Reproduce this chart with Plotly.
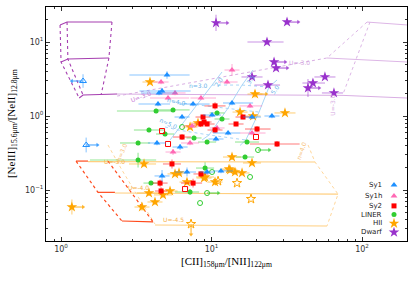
import numpy as np
import plotly.graph_objects as go

# ---------------- observed sources ----------------
# each class: x, y, x-error low/high (dex), y-error (dex)
sy1_x = [5.06, 4.69, 4.48, 4.41, 7.54, 13.68, 6.37, 10.08, 18.58, 25.2, 12.88, 4.34, 6.18, 10.71, 4.69, 6.87, 9.34, 11.56]
sy1_y = [3.58, 2.18, 2.05, 1.45, 1.45, 1.50, 0.969, 1.03, 0.969, 1.0, 0.589, 0.432, 0.381, 0.489, 0.155, 0.175, 0.175, 0.181]
sy1_exl = [0.25, 0.15, 0.12, 0.13, 0.09, 0.06, 0.05, 0.06, 0.06, 0.05, 0.10, 0.06, 0.05, 0.05, 0.05, 0.08, 0.05, 0.05]
sy1_exh = [0.15, 0.19, 0.12, 0.08, 0.11, 0.14, 0.05, 0.06, 0.06, 0.05, 0.08, 0.06, 0.05, 0.05, 0.05, 0.06, 0.05, 0.08]
sy1_ey = [0.05, 0.04, 0.03, 0.03, 0.03, 0.03, 0.03, 0.03, 0.03, 0.03, 0.03, 0.03, 0.04, 0.03, 0.08, 0.06, 0.03, 0.03]
sy1_lim_x = [1.40, 1.47]
sy1_lim_y = [2.97, 0.406]
sy1_lim_ey = [0.09, 0.10]
sy1_lim_dir = ["left", "right"]

sy1h_x = [4.62, 5.72, 13.68, 12.68, 5.14, 8.51, 18.03, 7.42, 10.88, 7.20, 18.58, 5.55]
sy1h_y = [2.88, 2.05, 4.18, 2.88, 1.75, 1.75, 1.37, 0.733, 0.689, 0.432, 0.589, 0.326]
sy1h_exl = [0.05, 0.10, 0.05, 0.06, 0.12, 0.07, 0.07, 0.06, 0.05, 0.06, 0.08, 0.05]
sy1h_exh = [0.05, 0.07, 0.05, 0.07, 0.14, 0.10, 0.08, 0.06, 0.05, 0.06, 0.09, 0.05]
sy1h_ey = [0.03, 0.03, 0.08, 0.03, 0.03, 0.03, 0.03, 0.03, 0.03, 0.03, 0.03, 0.04]

sy2_x = [10.55, 16.19, 8.51, 9.34, 8.92, 10.55, 14.55, 20.06, 6.37, 8.78, 27.25, 5.46, 4.55, 4.62, 7.54, 8.51]
sy2_y = [1.37, 0.969, 0.780, 0.780, 0.83, 0.647, 0.780, 0.667, 0.520, 0.969, 0.419, 0.225, 0.124, 0.097, 0.124, 0.165]
sy2_exl = [0.07, 0.05, 0.05, 0.05, 0.05, 0.05, 0.05, 0.08, 0.06, 0.05, 0.18, 0.06, 0.05, 0.04, 0.08, 0.05]
sy2_exh = [0.07, 0.05, 0.05, 0.05, 0.05, 0.05, 0.05, 0.09, 0.06, 0.05, 0.15, 0.06, 0.05, 0.04, 0.06, 0.05]
sy2_ey = [0.05, 0.03, 0.03, 0.03, 0.03, 0.04, 0.03, 0.04, 0.04, 0.03, 0.04, 0.06, 0.05, 0.05, 0.06, 0.04]
sy2_open_x = [4.69, 19.75, 5.14, 6.67]
sy2_open_y = [0.627, 0.520, 0.419, 0.103]

liner_x = [4.28, 5.55, 3.84, 4.91, 11.74, 10.88, 3.25, 3.25, 9.34, 17.21, 7.65, 9.06, 16.70, 3.96, 7.20]
liner_y = [1.17, 1.21, 0.647, 0.571, 0.911, 1.10, 0.432, 0.254, 0.445, 0.445, 0.505, 0.198, 0.279, 0.124, 0.094]
liner_exl = [0.26, 0.10, 0.10, 0.06, 0.05, 0.05, 0.12, 0.32, 0.06, 0.08, 0.05, 0.06, 0.06, 0.05, 0.10]
liner_exh = [0.10, 0.11, 0.10, 0.06, 0.05, 0.05, 0.08, 0.12, 0.06, 0.08, 0.05, 0.06, 0.06, 0.05, 0.06]
liner_ey = [0.03, 0.03, 0.03, 0.03, 0.03, 0.03, 0.03, 0.10, 0.03, 0.03, 0.03, 0.08, 0.03, 0.03, 0.04]
liner_open_x = [6.37, 20.37, 10.08, 18.03, 9.34, 8.39]
liner_open_y = [0.710, 0.347, 0.175, 0.150, 0.091, 0.0667]
liner_open_lim = ["", "right", "", "", "right", ""]

hii_x = [3.90, 15.47, 18.87, 8.13, 7.20, 13.68, 18.58, 13.28, 14.32, 15.95, 9.06, 3.56, 6.08, 8.92, 13.07, 3.84, 4.76, 5.30, 3.45, 4.21, 5.72, 10.55, 6.87, 30.77, 1.18, 19.45]
hii_y = [2.88, 1.13, 1.0, 0.804, 0.71, 0.279, 0.232, 0.186, 0.175, 0.170, 0.150, 0.225, 0.170, 0.145, 0.192, 0.091, 0.086, 0.097, 0.0589, 0.0689, 0.165, 0.128, 0.128, 1.10, 0.0589, 1.98]
hii_exl = [0.05, 0.05, 0.05, 0.05, 0.05, 0.06, 0.06, 0.05, 0.05, 0.05, 0.06, 0.10, 0.06, 0.05, 0.05, 0.08, 0.06, 0.05, 0.05, 0.05, 0.05, 0.05, 0.05, 0.07, 0.0, 0.05]
hii_exh = [0.05, 0.05, 0.05, 0.05, 0.05, 0.06, 0.06, 0.05, 0.05, 0.05, 0.06, 0.08, 0.06, 0.05, 0.05, 0.08, 0.06, 0.05, 0.05, 0.05, 0.05, 0.05, 0.05, 0.07, 0.0, 0.05]
hii_ey = [0.03, 0.03, 0.03, 0.03, 0.03, 0.04, 0.03, 0.03, 0.03, 0.03, 0.03, 0.04, 0.04, 0.03, 0.03, 0.04, 0.04, 0.03, 0.05, 0.04, 0.03, 0.03, 0.03, 0.03, 0.10, 0.05]
hii_lim = ["", "", "", "", "", "", "", "", "", "", "", "", "", "", "", "", "", "", "", "", "", "", "", "", "right", "right"]
hii_open_x = [11.05, 14.77, 18.30, 7.31]
hii_open_y = [0.132, 0.124, 0.0756, 0.0347]
hii_open_lim = ["", "", "", "down"]

dw_x = [10.71, 31.75, 23.37, 26.03, 26.84, 18.58, 23.73, 56.7, 47.2, 43.75, 65.1]
dw_y = [18.1, 18.6, 10.0, 5.37, 4.45, 3.37, 2.62, 3.37, 2.79, 2.39, 2.05]
dw_exl = [0.0, 0.0, 0.13, 0.0, 0.0, 0.07, 0.09, 0.07, 0.07, 0.0, 0.08]
dw_exh = [0.0, 0.0, 0.11, 0.0, 0.0, 0.07, 0.08, 0.07, 0.08, 0.0, 0.06]
dw_ey = [0.11, 0.03, 0.03, 0.03, 0.03, 0.03, 0.03, 0.03, 0.03, 0.12, 0.03]
dw_lim = ["right", "right", "", "right", "right", "", "", "", "", "right", ""]

# ---------------- model grids ----------------
pl_rows_x = [[0.985, 1.096, 2.18], [1.0, 1.11, 2.08], [1.32, 1.40, 2.36]]
pl_rows_y = [[17.0, 18.6, 18.6], [5.37, 5.89, 6.08], [1.75, 1.92, 1.98]]
pl_cols_x = [[0.985, 1.0, 1.32], [1.096, 1.11, 1.40], [2.18, 2.08, 1.85]]
pl_cols_y = [[17.0, 5.37, 1.75], [18.6, 5.89, 1.92], [18.6, 6.08, 1.97]]
pl_long_x = [2.36, 74.8, 199]
pl_long_y = [1.98, 1.90, 1.75]
pl_diag_x = [2.36, 58.5]
pl_diag_y = [1.86, 6.08]
pr_rows_x = [[108, 199], [58.5, 199]]
pr_rows_y = [[18.6, 17.0], [6.08, 5.37]]
pr_cols_x = [[108, 58.5], [113, 74.8]]
pr_cols_y = [[18.6, 6.08], [18.6, 1.98]]

red_rows_x = [[1.258, 1.51], [1.76, 2.28], [2.54, 4.09]]
red_rows_y = [[0.246, 0.246], [0.093, 0.093], [0.0381, 0.0371]]
red_cols_x = [[1.258, 1.76, 2.54], [2.05, 2.92, 4.09]]
red_cols_y = [[0.246, 0.093, 0.0381], [0.246, 0.093, 0.0371]]
org_rows_x = [[1.51, 48.7], [2.28, 69.3], [4.21, 58.5]]
org_rows_y = [[0.242, 0.239], [0.091, 0.088], [0.0337, 0.0326]]
org_left_x = [2.05, 2.54, 3.35, 4.21]
org_left_y = [0.406, 0.186, 0.0732, 0.0347]
org_right_x = [43.8, 48.7, 69.3, 58.5]
org_right_y = [0.406, 0.239, 0.088, 0.0326]

blue_cols_x = [[11.74, 10.08, 8.01, 5.99, 5.30], [18.87, 15.95, 12.88, 9.62, 8.65], [27.25, 24.1, 20.7, 16.9, 15.47]]
blue_cols_y = [[3.93, 2.62, 1.41, 0.647, 0.474], [4.18, 2.62, 1.28, 0.554, 0.474], [3.07, 2.46, 1.13, 0.474, 0.40]]
blue_rows_x = [[10.08, 15.95, 24.1], [5.46, 8.01, 12.88, 20.7], [4.91, 5.99, 9.62, 16.9]]
blue_rows_y = [[2.62, 2.62, 2.46], [1.55, 1.41, 1.28, 1.13], [0.71, 0.647, 0.554, 0.474]]

model_labels = [
    ("U=-3.0", 2.74, 1.86, -20, "#C77BD6"),
    ("U=-3.0", 46.5, 6.27, 0, "#D4A6E0"),
    ("U=-3.0", 69.2, 1.40, -90, "#D4A6E0"),
    ("U=-3.0", 1.86, 0.242, 0, "#F5B04A"),
    ("U=-4.0", 2.70, 0.090, 0, "#F5B04A"),
    ("U=-4.5", 4.60, 0.0332, 0, "#F5B04A"),
    ("n=3.0", 2.20, 0.33, -68, "#F7C27A"),
    ("n=4.0", 45.5, 0.34, -70, "#F7C27A"),
    ("n=3.0", 8.2, 2.58, 0, "#6AB4EA"),
    ("n=4.0", 4.84, 1.57, 12, "#6AB4EA"),
    ("n=5.0", 4.28, 0.78, 25, "#6AB4EA"),
    ("2.0", 11.2, 3.80, -55, "#6AB4EA"),
    ("3.5", 18.2, 4.05, -55, "#6AB4EA"),
    ("5.0", 26.4, 3.00, -55, "#6AB4EA"),
]

legend_names = ["Sy1", "Sy1h", "Sy2", "LINER", "HII", "Dwarf"]

X_RANGE = [-0.1, 2.299]
Y_RANGE = [-1.689, 1.473]

# ---------------- figure ----------------
C_SY1 = "#1E90FF"; C_SY1H = "#FF69B4"; C_SY2 = "#FF0000"
C_LIN = "#32CD32"; C_HII = "#FFA500"; C_DW = "#9932CC"

def rgba(hexc, a):
    h = hexc.lstrip("#")
    return "rgba(%d,%d,%d,%.2f)" % (int(h[0:2], 16), int(h[2:4], 16), int(h[4:6], 16), a)

fig = go.Figure()

def lines(xs, ys, color, dash=None, width=1.0):
    for xx, yy in zip(xs, ys):
        fig.add_trace(go.Scatter(x=xx, y=yy, mode="lines", hoverinfo="skip",
                                 line=dict(color=color, width=width, dash=dash),
                                 showlegend=False))

# model grids
lines(pl_rows_x, pl_rows_y, "#A63EB0", None, 1.1)
lines(pl_cols_x, pl_cols_y, "#A63EB0", "dot", 1.1)
lines([pl_long_x], [pl_long_y], "#D9AEE3", None, 1.0)
lines([pl_diag_x], [pl_diag_y], "#D9AEE3", "dot", 1.0)
lines(pr_rows_x, pr_rows_y, "#DDB6E6", None, 1.0)
lines(pr_cols_x, pr_cols_y, "#DDB6E6", "dot", 1.0)
lines(org_rows_x, org_rows_y, "#FFCF80", None, 1.1)
lines([org_left_x, org_right_x], [org_left_y, org_right_y], "#FFD79A", "dot", 1.0)
lines(red_rows_x, red_rows_y, "#FF4A1C", None, 1.2)
lines(red_cols_x, red_cols_y, "#FF4A1C", "dot", 1.2)
lines(blue_cols_x, blue_cols_y, "#9FD0F5", None, 0.9)
lines(blue_rows_x, blue_rows_y, "#9FD0F5", "dot", 0.9)

def pts(x, y, exl, exh, ey, color, symbol, size, open_=False):
    x = np.array(x); y = np.array(y)
    exl = np.array(exl); exh = np.array(exh); ey = np.array(ey)
    ec = rgba(color, 0.35)
    mk = dict(color=color, symbol=symbol, size=size, line=dict(width=0))
    if open_:
        mk["line"] = dict(width=1, color=color)
    fig.add_trace(go.Scatter(
        x=x, y=y, mode="markers", showlegend=False, hoverinfo="skip", marker=mk,
        error_x=dict(type="data", symmetric=False, array=x * (10 ** exh - 1),
                     arrayminus=x * (1 - 10 ** (-exl)), color=ec, thickness=1.6, width=0),
        error_y=dict(type="data", symmetric=False, array=y * (10 ** ey - 1),
                     arrayminus=y * (1 - 10 ** (-ey)), color=ec, thickness=1.6, width=0)))

def open_pts(x, y, color, symbol, size):
    fig.add_trace(go.Scatter(
        x=x, y=y, mode="markers", showlegend=False, hoverinfo="skip",
        marker=dict(color=color, symbol=symbol, size=size, line=dict(width=1, color=color))))

def arrows(x, y, dirs, color):
    # limit arrows: a short stem plus a small triangular head
    sx, sy, hx, hy, hs = [], [], [], [], []
    for xx, yy, d in zip(x, y, dirs):
        if not d:
            continue
        fx = {"right": 10 ** 0.075, "left": 10 ** -0.075}.get(d, 1.0)
        fy = {"down": 10 ** -0.14, "up": 10 ** 0.14}.get(d, 1.0)
        sx += [xx, xx * fx, None]; sy += [yy, yy * fy, None]
        hx.append(xx * fx); hy.append(yy * fy)
        hs.append({"right": "triangle-right", "left": "triangle-left",
                   "down": "triangle-down", "up": "triangle-up"}[d])
    if not hx:
        return
    col = rgba(color, 0.8)
    fig.add_trace(go.Scatter(x=sx, y=sy, mode="lines", line=dict(color=col, width=1.1),
                             showlegend=False, hoverinfo="skip"))
    fig.add_trace(go.Scatter(x=hx, y=hy, mode="markers",
                             marker=dict(symbol=hs, size=4, color=col, line=dict(width=0)),
                             showlegend=False, hoverinfo="skip"))

pts(liner_x, liner_y, liner_exl, liner_exh, liner_ey, C_LIN, "circle", 5)
open_pts(liner_open_x, liner_open_y, C_LIN, "circle-open", 5)
arrows(liner_open_x, liner_open_y, liner_open_lim, C_LIN)
pts(hii_x, hii_y, hii_exl, hii_exh, hii_ey, C_HII, "star", 8)
open_pts(hii_open_x, hii_open_y, C_HII, "star-open", 7)
arrows(hii_x, hii_y, hii_lim, C_HII)
arrows(hii_open_x, hii_open_y, hii_open_lim, C_HII)
pts(sy1h_x, sy1h_y, sy1h_exl, sy1h_exh, sy1h_ey, C_SY1H, "triangle-up", 6)
pts(sy2_x, sy2_y, sy2_exl, sy2_exh, sy2_ey, C_SY2, "square", 5)
open_pts(sy2_open_x, sy2_open_y, C_SY2, "square-open", 5)
pts(sy1_x, sy1_y, sy1_exl, sy1_exh, sy1_ey, C_SY1, "triangle-up", 6)
pts(sy1_lim_x, sy1_lim_y, [0, 0], [0, 0], sy1_lim_ey, C_SY1, "triangle-up-open", 6, open_=True)
arrows(sy1_lim_x, sy1_lim_y, sy1_lim_dir, C_SY1)
pts(dw_x, dw_y, dw_exl, dw_exh, dw_ey, C_DW, "star", 8)
arrows(dw_x, dw_y, dw_lim, C_DW)

def to_paper(v, rng):
    return (np.log10(v) - rng[0]) / (rng[1] - rng[0])

for txt, lx, ly, ang, col in model_labels:
    fig.add_annotation(x=to_paper(lx, X_RANGE), y=to_paper(ly, Y_RANGE), xref="paper",
                       yref="paper", text=txt, showarrow=False, textangle=ang,
                       font=dict(family="DejaVu Sans", size=6, color=col))

# manual legend (text left, marker right) on an overlay axis in plot-fraction units
leg_sym = ["triangle-up", "triangle-up", "square", "circle", "star", "star"]
leg_col = [C_SY1, C_SY1H, C_SY2, C_LIN, C_HII, C_DW]
leg_size = [6, 6, 5, 5, 8, 8]
leg_y = [0.239, 0.192, 0.150, 0.113, 0.075, 0.037]
for name, s, c, sz, yy in zip(legend_names, leg_sym, leg_col, leg_size, leg_y):
    fig.add_trace(go.Scatter(x=[0.964], y=[yy], xaxis="x2", yaxis="y2", mode="markers",
                             marker=dict(symbol=s, color=c, size=sz), showlegend=False,
                             hoverinfo="skip"))
    fig.add_annotation(x=0.936, y=yy, xref="paper", yref="paper", text=name, showarrow=False,
                       xanchor="right", yanchor="middle",
                       font=dict(family="DejaVu Sans", size=7, color="#222"))

# axis titles
fig.add_annotation(x=0.501, y=-0.09, xref="paper", yref="paper", showarrow=False,
                   text="[CII]<sub>158μm</sub>/[NII]<sub>122μm</sub>", yanchor="middle",
                   font=dict(family="Liberation Serif", size=11, color="black"))
fig.add_annotation(x=-0.094, y=0.5, xref="paper", yref="paper", showarrow=False,
                   text="[NeIII]<sub>15.6μm</sub>/[NeII]<sub>12.8μm</sub>", textangle=-90,
                   xanchor="center", yanchor="middle",
                   font=dict(family="Liberation Serif", size=11, color="black"))

xminor = [0.8, 0.9] + [k for k in range(2, 10)] + [10 * k for k in range(2, 10)]
yminor = [0.03, 0.04, 0.05, 0.06, 0.07, 0.08, 0.09] + [k / 10 for k in range(2, 10)] + list(range(2, 10)) + [20]

axis_common = dict(type="log", showgrid=False, zeroline=False, showline=True,
                   linecolor="black", linewidth=1, mirror="allticks", ticks="inside",
                   ticklen=4, tickwidth=0.8, tickcolor="#333", automargin=False,
                   tickfont=dict(family="DejaVu Sans", size=8, color="#333"))

fig.update_layout(
    width=415, height=282, margin=dict(l=46, r=8, t=7, b=41, autoexpand=False),
    paper_bgcolor="white", plot_bgcolor="white", showlegend=False,
    xaxis=dict(range=X_RANGE, tickvals=[1, 10, 100],
               ticktext=["10<sup>0</sup>", "10<sup>1</sup>", "10<sup>2</sup>"],
               minor=dict(tickvals=xminor, ticks="inside", ticklen=2, tickcolor="#333"),
               **axis_common),
    yaxis=dict(range=Y_RANGE, tickvals=[0.1, 1, 10],
               ticktext=["10<sup>−1</sup>", "10<sup>0</sup>", "10<sup>1</sup>"],
               minor=dict(tickvals=yminor, ticks="inside", ticklen=2, tickcolor="#333"),
               **axis_common),
    xaxis2=dict(overlaying="x", range=[0, 1], visible=False, fixedrange=True),
    yaxis2=dict(overlaying="y", range=[0, 1], visible=False, fixedrange=True),
)

fig.write_html("out.html", config={"displayModeBar": False},
               post_script="document.body.style.margin='0';document.body.style.overflow='hidden';")
